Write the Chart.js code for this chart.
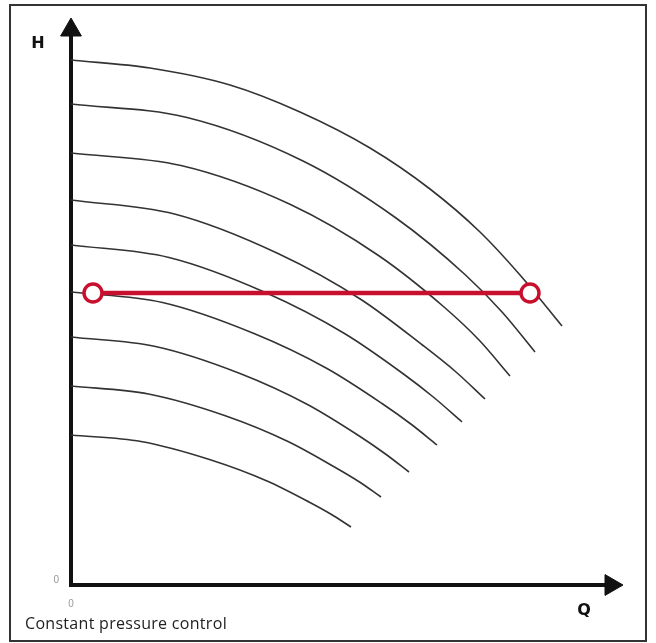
<!DOCTYPE html>
<html>
<head>
<meta charset="utf-8">
<script src="https://cdn.jsdelivr.net/npm/chart.js@4.4.1/dist/chart.umd.min.js"></script>
<style>
  html, body { margin: 0; padding: 0; background: #fff; }
  #frame { position: absolute; left: 9px; top: 4px; width: 638px; height: 638px; box-sizing: border-box; border: 2px solid #333; }
  #wrap { position: absolute; left: 0; top: 0; width: 656px; height: 643px; }
  #caption { position: absolute; left: 25px; top: 612px; font-family: "Open Sans", sans-serif; font-size: 16px; letter-spacing: 0.3px; color: #222; }
</style>
</head>
<body>
<div id="frame"></div>
<div id="wrap"><canvas id="pumpChart"></canvas></div>
<div id="caption">Constant pressure control</div>
<script>
// pump curves at different speeds, [Q, H]
const curve1 = [[0, 105], [15.8, 103.4], [31.8, 100], [45.8, 94.6], [59.8, 87.4], [71.8, 79.2], [81.8, 70.6], [89.8, 62], [98.2, 51.8]];
const curve2 = [[0, 96.2], [23.2, 93.5], [46.4, 84.8], [65, 73.4], [78.9, 62], [86.3, 54.5], [92.8, 46.6]];
const curve3 = [[0, 86.4], [22, 83.9], [43.9, 76.1], [61.5, 65.9], [74.6, 55.6], [81.7, 48.9], [87.8, 41.8]];
const curve4 = [[0, 77], [20.7, 74.2], [41.4, 66.3], [58, 57.1], [70.4, 47.9], [77, 42.6], [82.8, 37.2]];
const curve5 = [[0, 68], [19.6, 65.5], [39.1, 58.4], [54.7, 50.3], [66.5, 42.2], [72.7, 37.4], [78.2, 32.6]];
const curve6 = [[0, 58.6], [18.3, 56.5], [36.6, 50.3], [51.2, 43.3], [62.2, 36.3], [68.1, 32.1], [73.2, 28]];
const curve7 = [[0, 49.6], [16.9, 47.7], [33.8, 42.3], [47.3, 36.1], [57.5, 29.9], [62.9, 26.2], [67.6, 22.6]];
const curve8 = [[0, 39.8], [15.5, 38.2], [31, 33.8], [43.4, 28.7], [52.7, 23.6], [57.7, 20.6], [62, 17.6]];
const curve9 = [[0, 30], [14, 28.7], [28, 25], [39.2, 20.8], [47.6, 16.6], [52.1, 14.1], [56, 11.6]];

// constant pressure setpoint line
const setpointQ = [4.4, 91.8];
const setpointH = 58.4;

const axisQMax = 108;
const axisHMax = 111;
const axisNames = ['H', 'Q'];
const tickLabels = ['0'];

const curveSets = [curve1, curve2, curve3, curve4, curve5, curve6, curve7, curve8, curve9].map(c => ({
    data: c.map(p => ({ x: p[0], y: p[1] })),
    borderColor: '#333',
    borderWidth: 1.6,
    pointRadius: 0,
    cubicInterpolationMode: 'monotone',
    order: 2
}));

const axisLabels = {
    id: 'axisLabels',
    afterDraw(chart) {
        const ctx = chart.ctx;
        const a = chart.chartArea;
        ctx.save();
        ctx.fillStyle = '#111';
        ctx.font = 'bold 16px "DejaVu Sans", sans-serif';
        ctx.textAlign = 'center';
        ctx.textBaseline = 'middle';
        ctx.fillText(axisNames[0], a.left - 33, a.top + 14);
        ctx.fillText(axisNames[1], a.right - 27, a.bottom + 26);
        ctx.restore();
    }
};

new Chart(document.getElementById('pumpChart'), {
    type: 'line',
    data: {
        datasets: [
            ...curveSets,
            {
                data: setpointQ.map(q => ({ x: q, y: setpointH })),
                borderColor: '#c8102e',
                borderWidth: 4.5,
                pointRadius: 9,
                pointBorderWidth: 3.5,
                pointBackgroundColor: '#fff',
                pointBorderColor: '#c8102e',
                order: 1
            },
            {
                // arrow heads on the axes
                data: [{ x: 0, y: axisHMax }, { x: axisQMax, y: 0 }],
                showLine: false,
                pointStyle: 'triangle',
                pointRadius: 12,
                rotation: [0, 90],
                pointBackgroundColor: '#111',
                pointBorderColor: '#111',
                pointBorderWidth: 1,
                clip: false,
                order: 0
            }
        ]
    },
    options: {
        responsive: true,
        maintainAspectRatio: false,
        animation: false,
        layout: { padding: { left: 51, top: 30, right: 45, bottom: 28 } },
        plugins: { legend: { display: false }, tooltip: { enabled: false } },
        scales: {
            x: {
                type: 'linear',
                min: 0,
                max: axisQMax,
                grid: { display: false, drawTicks: false },
                border: { display: true, width: 4, color: '#111' },
                afterBuildTicks: s => { s.ticks = [{ value: 0 }]; },
                afterFit: s => { s.height = 30; },
                ticks: {
                    padding: 13,
                    color: '#999',
                    font: { family: 'Liberation Sans', size: 10 },
                    callback: () => tickLabels[0]
                }
            },
            y: {
                type: 'linear',
                min: 0,
                max: axisHMax,
                grid: { display: false, drawTicks: false },
                border: { display: true, width: 4, color: '#111' },
                afterBuildTicks: s => { s.ticks = [{ value: 0 }]; },
                afterFit: s => { s.width = 20; },
                ticks: {
                    padding: 12,
                    labelOffset: -5,
                    color: '#999',
                    font: { family: 'Liberation Sans', size: 10 },
                    callback: () => tickLabels[0]
                }
            }
        }
    },
    plugins: [axisLabels]
});
</script>
</body>
</html>
